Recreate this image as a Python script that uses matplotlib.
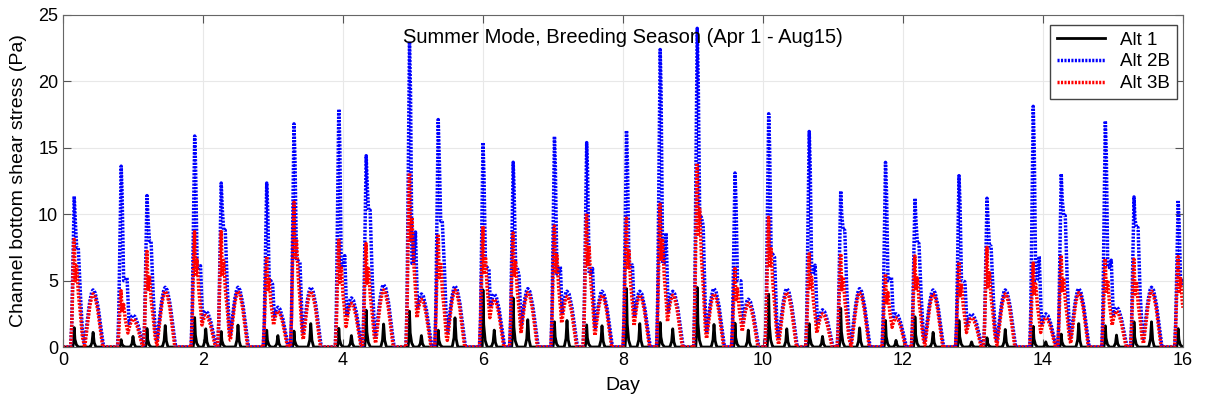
import numpy as np
import matplotlib.pyplot as plt

plt.rcParams['font.family'] = ['Liberation Sans', 'DejaVu Sans']

# main (flood) peaks: day, Alt 2B, Alt 3B, Alt 1, Alt 2B shoulder
major_t = [0.16, 0.83, 1.20, 1.88, 2.26, 2.91, 3.30, 3.94, 4.33, 4.95, 5.36,
           6.00, 6.43, 7.02, 7.48, 8.05, 8.53, 9.06, 9.60, 10.08, 10.66,
           11.11, 11.75, 12.17, 12.80, 13.20, 13.86, 14.26, 14.89, 15.30, 15.93]
major_blue = [11.4, 13.8, 11.4, 16.1, 12.4, 12.4, 16.8, 18.1, 14.6, 23.0, 17.2,
              15.4, 14.1, 16.0, 15.6, 16.3, 22.7, 24.1, 13.1, 17.8, 16.3,
              11.8, 13.9, 11.3, 12.9, 11.2, 18.2, 13.1, 17.2, 11.3, 11.2]
major_shoulder = [7.5, 5.0, 8.0, 6.0, 8.8, 5.0, 6.5, 6.0, 10.3, 6.3, 9.5,
                  6.0, 6.0, 5.5, 5.5, 6.0, 6.3, 9.8, 5.0, 7.0, 5.5,
                  8.8, 5.0, 7.8, 5.0, 7.6, 5.0, 9.9, 6.0, 9.0, 5.0]
major_red = [8.2, 4.3, 7.2, 8.8, 8.8, 6.9, 10.9, 8.1, 7.9, 13.1, 8.6,
             9.1, 8.7, 9.3, 10.2, 9.7, 10.9, 14.0, 5.9, 9.9, 7.1,
             7.1, 5.5, 7.0, 6.4, 7.5, 6.4, 7.0, 6.7, 6.6, 6.9]
major_black = [1.5, 0.6, 1.4, 2.4, 1.2, 1.3, 1.2, 1.5, 3.0, 2.7, 1.3,
               4.3, 4.0, 2.0, 1.8, 4.4, 2.0, 4.6, 1.8, 4.3, 1.8,
               3.0, 2.0, 2.4, 2.0, 0.7, 1.6, 1.0, 1.7, 1.9, 1.5]

# ebb humps: day, Alt 2B, Alt 3B, Alt 1
hump_t = [0.43, 1.00, 1.46, 2.04, 2.50, 3.07, 3.54, 4.12, 4.58, 5.12, 5.60,
          6.16, 6.64, 7.20, 7.70, 8.24, 8.71, 9.30, 9.79, 10.34, 10.85,
          11.38, 11.90, 12.43, 12.98, 13.46, 14.04, 14.51, 15.05, 15.55]
hump_blue = [4.3, 2.4, 4.5, 2.7, 4.5, 3.0, 4.5, 3.7, 4.7, 4.0, 4.6,
             4.0, 4.4, 4.2, 4.2, 4.2, 4.2, 4.4, 3.6, 4.4, 2.8,
             4.4, 2.5, 4.3, 2.5, 4.3, 2.5, 4.4, 3.0, 4.5]
hump_red = [4.0, 2.1, 4.2, 2.4, 4.2, 2.7, 4.2, 3.3, 4.3, 3.6, 4.3,
            3.6, 4.1, 3.8, 3.9, 3.9, 3.9, 4.0, 3.3, 4.1, 2.5,
            4.1, 2.2, 4.0, 2.2, 4.0, 2.2, 4.1, 2.7, 4.2]
hump_black = [1.15, 0.8, 1.65, 1.4, 1.65, 0.9, 1.8, 0.9, 1.8, 0.9, 2.2,
              1.3, 2.1, 2.0, 1.6, 1.8, 1.4, 1.7, 1.3, 1.4, 0.8,
              1.5, 0.5, 1.15, 0.4, 1.35, 0.4, 1.8, 0.9, 1.9]

day = np.linspace(0, 16, 7681)


def pulses(times, heights, dt, frac, shoulders=None):
    y = np.zeros_like(day)
    for i, (t0, h) in enumerate(zip(times, heights)):
        f = np.array(frac, dtype=float)
        if shoulders is not None:
            f[f < 0] = shoulders[i] / h
        y = np.maximum(y, h * np.interp(day, t0 + np.array(dt), f, left=0, right=0))
    return y


# pulse outlines (negative frac = per-event shoulder)
maj_dt = [-0.05, -0.035, -0.012, 0, 0.014, 0.035, 0.058, 0.085, 0.115, 0.15]
blue_frac = [0, 0.15, 0.7, 1.0, 0.85, -1, -1, 0.38, 0.12, 0]
red_frac = [0, 0.2, 0.8, 1.0, 0.6, 0.75, 0.5, 0.34, 0.1, 0]
blk_dt = [-0.02, -0.005, 0, 0.01, 0.03, 0.06]
blk_frac = [0, 0.3, 1.0, 0.4, 0.12, 0]
hump_dt = [-0.13, -0.09, -0.05, -0.02, 0, 0.03, 0.07, 0.11, 0.15]
hump_frac = [0, 0.4, 0.78, 0.96, 1.0, 0.95, 0.72, 0.35, 0]
bh_dt = [-0.04, -0.015, 0, 0.015, 0.04]
bh_frac = [0, 0.3, 1.0, 0.3, 0]

alt2b = np.maximum(pulses(major_t, major_blue, maj_dt, blue_frac, major_shoulder),
                   pulses(hump_t, hump_blue, hump_dt, hump_frac))
alt3b = np.maximum(pulses(major_t, major_red, maj_dt, red_frac),
                   pulses(hump_t, hump_red, [d * 0.92 for d in hump_dt], hump_frac))
alt1 = np.maximum(pulses(major_t, major_black, blk_dt, blk_frac),
                  pulses(hump_t, hump_black, bh_dt, bh_frac))

fig = plt.figure(figsize=(12.09, 4.04), dpi=100)
ax = fig.add_axes([0.0521, 0.141, 0.9264, 0.822])

ax.plot(day, alt1, color='black', lw=2, label='Alt 1')
ax.plot(day, alt2b, color='#0000ff', lw=2.5, ls=(0, (0.6, 0.4)), label='Alt 2B')
ax.plot(day, alt3b, color='#ff0000', lw=2.5, ls=(0, (0.6, 0.4)), label='Alt 3B')

ax.set_xlim(0, 16)
ax.set_ylim(0, 25)
ax.set_xticks(range(0, 17, 2))
ax.set_yticks(range(0, 26, 5))
ax.grid(True, color='#e8e8e8', lw=0.8)
ax.set_axisbelow(True)
ax.tick_params(direction='in', length=6, top=True, right=True,
               colors='#555555', labelcolor='black', labelsize=13)
for s in ax.spines.values():
    s.set_color('#666666')

ax.set_xlabel('Day', fontsize=14, labelpad=6)
ax.set_ylabel('Channel bottom shear stress (Pa)', fontsize=14, labelpad=8)
ax.text(0.5, 0.962, 'Summer Mode, Breeding Season (Apr 1 - Aug15)',
        transform=ax.transAxes, ha='center', va='top', fontsize=14.5)

leg = ax.legend(loc='upper right', bbox_to_anchor=(0.9946, 0.97), fontsize=13.5,
                fancybox=False, edgecolor='#444444', framealpha=1,
                handlelength=2.6, borderpad=0.35, labelspacing=0.25,
                borderaxespad=0)
leg.get_frame().set_linewidth(1)

plt.savefig('out.png', dpi=100)
